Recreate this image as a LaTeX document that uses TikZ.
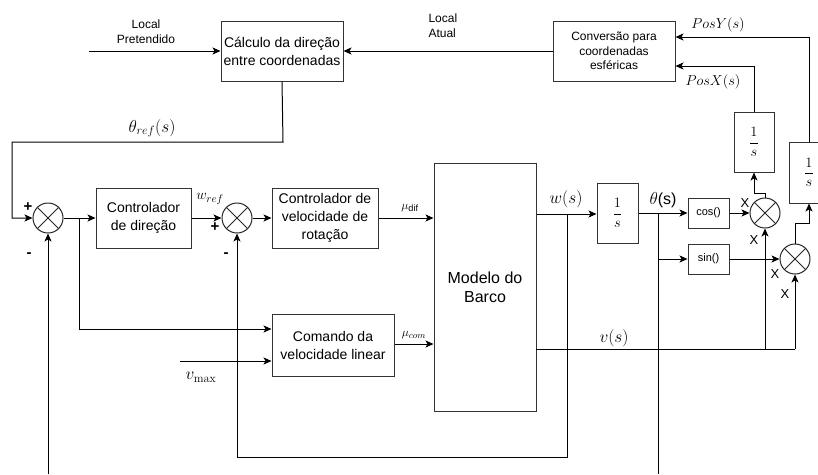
\documentclass[tikz,border=0pt]{standalone}
\usepackage{amsmath}
\usepackage[no-math]{fontspec}
\setmainfont{Liberation Sans}
\usetikzlibrary{arrows.meta}
\begin{document}
\begin{tikzpicture}[x=1pt,y=-1pt,
  line width=1pt,
  blk/.style={draw=black!80, rectangle, inner sep=1pt, align=center},
  sumc/.style={draw=black!85, circle, minimum size=30pt, inner sep=0pt,
    path picture={\draw[line width=0.9pt] (path picture bounding box.north west)--(path picture bounding box.south east)
      (path picture bounding box.north east)--(path picture bounding box.south west);}},
  arr/.style={-{Stealth[length=8pt,width=7pt,inset=2pt]}},
  lbl/.style={inner sep=0pt, align=center},
  t12/.style={font=\fontsize{12}{14.5}\selectfont},
  t14/.style={font=\fontsize{14}{18}\selectfont},
  t16/.style={font=\fontsize{16}{19}\selectfont},
  m18/.style={font=\fontsize{18}{20}\selectfont},
  m15/.style={font=\fontsize{15}{17}\selectfont},
  sgn/.style={lbl,font=\fontsize{15}{17}\selectfont\bfseries},
  xl/.style={lbl,font=\fontsize{13}{15}\selectfont},
]
\useasboundingbox (0,0) rectangle (818,474);

% blocks
\node[blk,t14,minimum width=122pt,minimum height=60pt] (calc) at (282,51) {Cálculo da direção\\entre coordenadas};
\node[blk,t12,minimum width=122pt,minimum height=60pt] (conv) at (614,51) {Conversão para\\coordenadas\\esféricas};
\node[blk,t14,minimum width=95pt,minimum height=60pt] (cdir) at (143.5,218) {Controlador\\de direção};
\node[blk,t14,minimum width=106pt,minimum height=60pt] (cvel) at (325,218) {Controlador de\\velocidade de\\rotação};
\node[blk,t14,minimum width=122pt,minimum height=62pt] (ccom) at (333,345) {Comando da\\velocidade linear};
\node[blk,t16,minimum width=102pt,minimum height=248pt] (model) at (485,287) {Modelo do\\Barco};
\node[blk,m15,minimum width=41pt,minimum height=60pt] (int1) at (617.5,213) {$\displaystyle\frac{1}{s}$};
\node[blk,font=\fontsize{11}{13}\selectfont,minimum width=41pt,minimum height=30pt] (cosb) at (708.5,213) {cos()};
\node[blk,font=\fontsize{11}{13}\selectfont,minimum width=41pt,minimum height=30pt] (sinb) at (708.5,259) {sin()};
\node[blk,m15,minimum width=40pt,minimum height=60pt] (intx) at (754,142) {$\displaystyle\frac{1}{s}$};
\node[blk,m15,minimum width=40pt,minimum height=61pt] (inty) at (809,172.5) {$\displaystyle\frac{1}{s}$};

\node[sumc] (sum1) at (48,218) {};
\node[sumc] (sum2) at (237,218) {};
\node[sumc] (mul1) at (765,213) {};
\node[sumc] (mul2) at (795,259) {};

% coordinates
\coordinate (lp) at (89,51);
\coordinate (th1) at (283,142);
\coordinate (th2) at (12,142);
\coordinate (th3) at (12,218);
\coordinate (b1) at (79,218);
\coordinate (b1d) at (79,329);
\coordinate (vm) at (180,361);
\coordinate (wb) at (567,214);
\coordinate (wb1) at (567,457);
\coordinate (wb2) at (237,457);
\coordinate (tb) at (658,213);
\coordinate (tbs) at (658,259);
\coordinate (tbe) at (658,474);
\coordinate (fb1) at (48,474);
\coordinate (vs0) at (536,349);
\coordinate (vs1) at (765,349);
\coordinate (vs2) at (795,349);

% connectors
\draw[arr] (lp) -- (calc.west);
\draw[arr] (conv.west) -- (calc.east);
\draw[arr] (calc.south) -- (th1) -- (th2) -- (th3) -- (sum1.west);
\draw[arr] (sum1.east) -- (cdir.west);
\draw[arr] (b1) -- (b1d) -- (b1d -| ccom.west);
\draw[arr] (vm) -- (vm -| ccom.west);
\draw[arr] (cdir.east) -- (sum2.west);
\draw[arr] (sum2.east) -- (cvel.west);
\draw[arr] (cvel.east) -- (cvel.east -| model.west);
\draw[arr] (ccom.east |- 0,344) -- (model.west |- 0,344);
\draw[arr] (model.east |- wb) -- (int1.west |- wb);
\draw[arr] (wb) -- (wb1) -- (wb2) -- (sum2.south);
\draw[arr] (int1.east) -- (cosb.west);
\draw (tb) -- (tbe);
\draw[arr] (tbs) -- (sinb.west);
\draw[arr] (cosb.east) -- (mul1.west);
\draw[arr] (sinb.east) -- (mul2.west);
\draw[arr] (mul1.north) -- (765,193) -- (754,193) -- (intx.south);
\draw[arr] (mul2.north) -- (795,223) -- (809,223) -- (inty.south);
\draw[arr] (intx.north) -- (754,66) -- (conv.east |- 0,66);
\draw[arr] (inty.north) -- (809,37) -- (conv.east |- 0,37);
\draw (vs0) -- (vs2);
\draw[arr] (vs1) -- (mul1.south);
\draw[arr] (vs2) -- (mul2.south);
\draw[arr] (fb1) -- (sum1.south);

% labels
\node[lbl,t12] at (146,31.5) {Local\\Pretendido};
\node[lbl,t12,align=left,anchor=west] at (428,25.5) {Local\\Atual};
\node[lbl,m18] at (152,128) {$\theta_{ref}(s)$};
\node[lbl,m15] at (210,199) {$w_{ref}$};
\node[lbl,font=\fontsize{13}{15}\selectfont] at (410,208) {$\mu_{\text{dif}}$};
\node[lbl,font=\fontsize{13}{15}\selectfont] at (414,335) {$\mu_{com}$};
\node[lbl,m18] at (201,377) {$v_{\max}$};
\node[lbl,m18] at (566,199) {$w(s)$};
\node[lbl,font=\fontsize{16}{18}\selectfont] at (663,200) {$\theta$(s)};
\node[lbl,m18] at (614,338) {$v(s)$};
\node[lbl,m15] at (718,25) {$PosY(s)$};
\node[lbl,m15] at (713,82) {$PosX(s)$};
\node[sgn] at (28,207) {+};
\node[sgn] at (29,255) {-};
\node[sgn] at (215,227) {+};
\node[sgn] at (226,255) {-};
\node[xl] at (745,203) {X};
\node[xl] at (754,240) {X};
\node[xl] at (775,274) {X};
\node[xl] at (785,294) {X};
\end{tikzpicture}
\end{document}
